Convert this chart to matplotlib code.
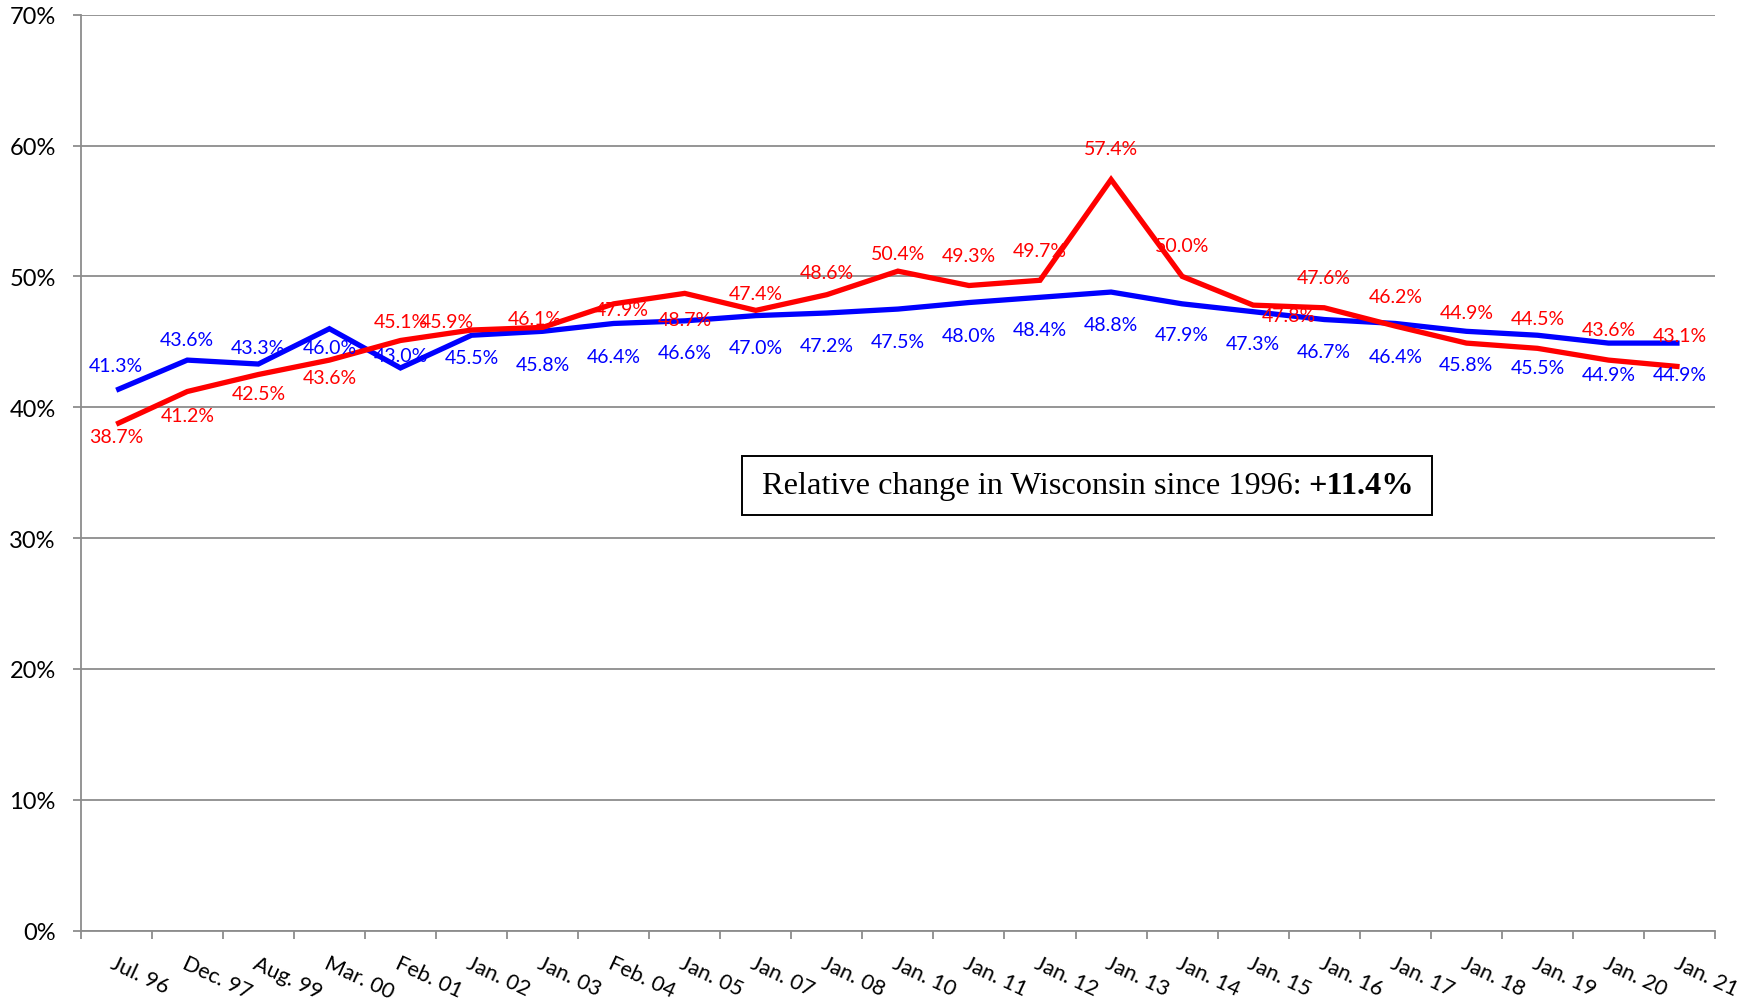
import matplotlib.pyplot as plt
import numpy as np
from matplotlib.patches import Rectangle

plt.rcParams['font.family'] = ['Lato', 'DejaVu Sans']

# categories on the x axis
fechas = ["Jul. 96", "Dec. 97", "Aug. 99", "Mar. 00", "Feb. 01", "Jan. 02",
          "Jan. 03", "Feb. 04", "Jan. 05", "Jan. 07", "Jan. 08", "Jan. 10",
          "Jan. 11", "Jan. 12", "Jan. 13", "Jan. 14", "Jan. 15", "Jan. 16",
          "Jan. 17", "Jan. 18", "Jan. 19", "Jan. 20", "Jan. 21"]

# red series (Wisconsin) and blue series, in %
wisconsin = [38.7, 41.2, 42.5, 43.6, 45.1, 45.9, 46.1, 47.9, 48.7, 47.4, 48.6, 50.4,
             49.3, 49.7, 57.4, 50.0, 47.8, 47.6, 46.2, 44.9, 44.5, 43.6, 43.1]
nacional = [41.3, 43.6, 43.3, 46.0, 43.0, 45.5, 45.8, 46.4, 46.6, 47.0, 47.2, 47.5,
            48.0, 48.4, 48.8, 47.9, 47.3, 46.7, 46.4, 45.8, 45.5, 44.9, 44.9]

y_ticks = [0, 10, 20, 30, 40, 50, 60, 70]

# label offsets in pixels (dx, dy with dy positive = upwards)
off_rojo_dy = [-12, -24, -19, -17, 19, 9, 9, -6, -26, 17, 22, 18,
               30, 30, 31, 31, -10, 30, 30, 31, 30, 31, 31]
off_rojo_dx = [0, 0, 0, 0, 0, -25, -8, 8, 0, 0, 0, 0,
               0, 0, 0, 0, 36, 0, 0, 0, 0, 0, 0]
off_azul_dy = [25, 21, 17, -19, 12, -22, -33, -33, -32, -32, -32, -32,
               -33, -32, -32, -31, -32, -32, -33, -33, -32, -31, -31]

ROJO = '#FF0000'
AZUL = '#0000FF'
GRIS = '#8c8c8c'

fig = plt.figure(figsize=(17.58, 10.04), dpi=100)
ax = fig.add_axes([0.0459, 0.0721, 0.9297, 0.9123])

x = np.arange(len(fechas))
ax.plot(x, nacional, color=AZUL, lw=3.8, solid_joinstyle='miter', solid_capstyle='butt', zorder=3)
ax.plot(x, wisconsin, color=ROJO, lw=3.8, solid_joinstyle='miter', solid_capstyle='butt', zorder=4)

for i, v in enumerate(wisconsin):
    ax.annotate(f"{v:.1f}%", (x[i], v), xytext=(off_rojo_dx[i], off_rojo_dy[i]),
                textcoords='offset pixels', ha='center', va='center',
                color=ROJO, fontsize=14, zorder=5)
for i, v in enumerate(nacional):
    ax.annotate(f"{v:.1f}%", (x[i], v), xytext=(0, off_azul_dy[i]),
                textcoords='offset pixels', ha='center', va='center',
                color=AZUL, fontsize=14, zorder=5)

ax.set_xlim(-0.5, len(fechas) - 0.5)
ax.set_ylim(0, 70)
ax.set_yticks(y_ticks)
ax.set_yticklabels([f"{t}%" for t in y_ticks])
ax.grid(axis='y', color=GRIS, lw=1.3, zorder=1)

# tick marks between categories, labels at the centres
ax.set_xticks(np.arange(-0.5, len(fechas), 1))
ax.set_xticklabels([])
ax.set_xticks(x, minor=True)
ax.set_xticklabels(fechas, minor=True, rotation=-25, ha='left', va='top',
                   rotation_mode='anchor', fontsize=15.5)
ax.tick_params(axis='x', which='major', length=6, width=1.3, color=GRIS)
ax.tick_params(axis='x', which='minor', length=0, pad=16)
ax.tick_params(axis='y', length=6, width=1.3, color=GRIS, labelsize=17, pad=12)

for lado in ['top', 'right']:
    ax.spines[lado].set_visible(False)
for lado in ['left', 'bottom']:
    ax.spines[lado].set_color(GRIS)
    ax.spines[lado].set_linewidth(1.3)

# caja de texto
ax.add_patch(Rectangle((0.4046, 0.4538), 0.4222, 0.0644, transform=ax.transAxes,
                       facecolor='white', edgecolor='black', lw=1.4, zorder=6))
t1 = ax.text(0.4169, 0.486, "Relative change in Wisconsin since 1996:", transform=ax.transAxes,
             ha='left', va='center', fontsize=23.3, family='Liberation Serif', zorder=7)
ax.annotate("+11.4%", xy=(1, 0), xycoords=t1, xytext=(7, 0), textcoords='offset pixels',
            ha='left', va='bottom', fontsize=23.3, family='Liberation Serif',
            fontweight='bold', zorder=7)

fig.savefig('out.png', dpi=100)
